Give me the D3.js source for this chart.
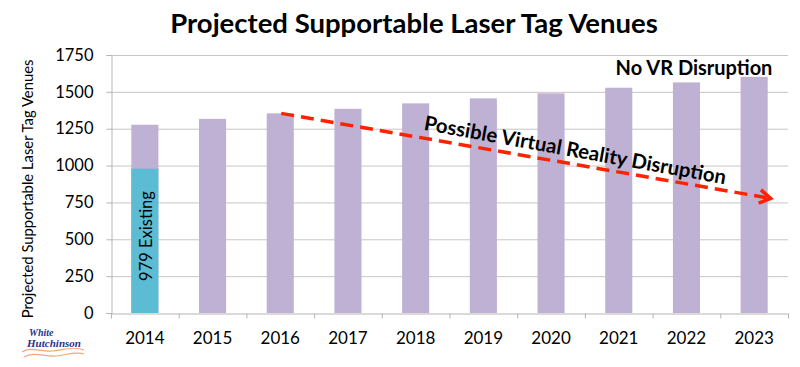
<!DOCTYPE html>
<html>
<head>
<meta charset="utf-8">
<script src="https://cdn.jsdelivr.net/npm/d3@7"></script>
<style>
  body { margin: 0; background: #fff; }
  text { font-family: Lato, "Open Sans", sans-serif; }
</style>
</head>
<body>
<svg id="chart" width="800" height="367"></svg>
<script>
// chart data
const years = ['2014', '2015', '2016', '2017', '2018', '2019', '2020', '2021', '2022', '2023']
const supportable = [1277, 1317, 1354, 1385, 1422, 1456, 1490, 1528, 1564, 1602]
const existing = [979, 0, 0, 0, 0, 0, 0, 0, 0, 0]
const yTicks = [0, 250, 500, 750, 1000, 1250, 1500, 1750]
// arrow of the VR scenario: from the 2016 bar down to ~775 past 2023
const vrStart = { year: '2016', value: 1354 }
const vrEnd = { year: '2023', value: 777 }

const svg = d3.select('#chart')
const plotLeft = 111, plotRight = 788, plotTop = 55, plotBottom = 313

const x = d3.scaleBand().domain(years).range([plotLeft, plotRight]).paddingInner(0).paddingOuter(0)
const y = d3.scaleLinear().domain([0, 1750]).range([plotBottom, plotTop])
const barW = x.bandwidth() * 0.4

// title
svg.append('text')
  .attr('x', 414).attr('y', 33)
  .attr('text-anchor', 'middle')
  .style('font-size', '27.5px').style('font-weight', 'bold')
  .text('Projected Supportable Laser Tag Venues')

// gridlines
svg.append('g').selectAll('line').data(yTicks.slice(1)).join('line')
  .attr('x1', plotLeft).attr('x2', plotRight)
  .attr('y1', d => y(d) + 0.5).attr('y2', d => y(d) + 0.5)
  .style('stroke', '#c6c6c6').style('stroke-width', 1)

// y axis
const yAxis = svg.append('g')
  .attr('transform', `translate(${plotLeft + 0.5},0)`)
  .call(d3.axisLeft(y).tickValues(yTicks).tickFormat(d3.format('d')).tickSize(5).tickPadding(13))
yAxis.select('.domain').style('stroke', '#b5b5b5')
yAxis.selectAll('.tick line').style('stroke', '#b5b5b5')
yAxis.selectAll('.tick text')
  .style('font-size', '16.5px').style('fill', '#000')
  .style('font-family', 'Lato, sans-serif')

// x axis
const xAxis = svg.append('g')
  .attr('transform', `translate(0,${plotBottom + 0.5})`)
  .call(d3.axisBottom(x).tickSize(0).tickPadding(18))
xAxis.select('.domain').style('stroke', '#b5b5b5')
xAxis.selectAll('.tick text')
  .style('font-size', '17px').style('fill', '#000')
  .style('font-family', 'Lato, sans-serif')
// ticks on the band edges
xAxis.append('g').selectAll('line').data(years.concat(['end'])).join('line')
  .attr('x1', (d, i) => plotLeft + i * x.step() + 0.5)
  .attr('x2', (d, i) => plotLeft + i * x.step() + 0.5)
  .attr('y1', 0).attr('y2', 5)
  .style('stroke', '#b5b5b5')

// y axis title
svg.append('text')
  .attr('transform', 'translate(33,189) rotate(-90)')
  .attr('text-anchor', 'middle')
  .style('font-size', '14.8px')
  .text('Projected Supportable Laser Tag Venues')

// bars
svg.append('g').selectAll('rect').data(years).join('rect')
  .attr('x', d => x(d) + (x.bandwidth() - barW) / 2)
  .attr('width', barW)
  .attr('y', (d, i) => y(supportable[i]))
  .attr('height', (d, i) => y(0) - y(supportable[i]))
  .style('fill', '#bfb1d3')

svg.append('g').selectAll('rect').data(years.filter((d, i) => existing[i] > 0)).join('rect')
  .attr('x', d => x(d) + (x.bandwidth() - barW) / 2)
  .attr('width', barW)
  .attr('y', (d, i) => y(existing[i]))
  .attr('height', (d, i) => y(0) - y(existing[i]))
  .style('fill', '#5bbcd3')

// label inside the existing bar
svg.append('text')
  .attr('transform', `translate(${x('2014') + x.bandwidth() / 2 + 7},236) rotate(-90)`)
  .attr('text-anchor', 'middle')
  .style('font-size', '16.5px')
  .text(existing[0] + ' Existing')

// no VR label
svg.append('text')
  .attr('x', 694).attr('y', 75)
  .attr('text-anchor', 'middle')
  .style('font-size', '20px').style('font-weight', 'bold')
  .text('No VR Disruption')

// dashed red arrow
const x0 = x(vrStart.year) + x.bandwidth() / 2 + 1
const y0 = y(vrStart.value)
const x1 = x(vrEnd.year) + x.bandwidth() / 2 + barW / 2 + 3
const y1 = y(vrEnd.value)
const ang = Math.atan2(y1 - y0, x1 - x0)
svg.append('line')
  .attr('x1', x0).attr('y1', y0)
  .attr('x2', x1 - 4 * Math.cos(ang)).attr('y2', y1 - 4 * Math.sin(ang))
  .style('stroke', '#ff2200').style('stroke-width', 3.5)
  .style('stroke-dasharray', '13,7')
const head = 13
svg.append('path')
  .attr('d', `M${x1 - head * Math.cos(ang - 0.55)},${y1 - head * Math.sin(ang - 0.55)}L${x1},${y1}L${x1 - head * Math.cos(ang + 0.55)},${y1 - head * Math.sin(ang + 0.55)}`)
  .style('fill', 'none').style('stroke', '#ff2200').style('stroke-width', 3.5)

// VR label along the arrow
svg.append('text')
  .attr('transform', `translate(574,157) rotate(${ang * 180 / Math.PI + 0.4})`)
  .attr('text-anchor', 'middle')
  .style('font-size', '20.3px').style('font-weight', 'bold')
  .text('Possible Virtual Reality Disruption')

// logo, bottom left
const logo = svg.append('g')
logo.append('text').attr('x', 29).attr('y', 336)
  .style('font-size', '10px').style('font-style', 'italic').style('font-weight', 'bold')
  .style('fill', '#26358a').style('font-family', '"Liberation Serif", serif')
  .text('White')
logo.append('text').attr('x', 27).attr('y', 347)
  .style('font-size', '10px').style('font-style', 'italic').style('font-weight', 'bold')
  .style('fill', '#26358a').style('font-family', '"Liberation Serif", serif')
  .attr('textLength', 54).attr('lengthAdjust', 'spacingAndGlyphs')
  .text('Hutchinson')
logo.append('path')
  .attr('d', 'M22,352 C30,346 40,352 52,351 C64,350 74,346 84,350 M24,357 C34,351 44,357 56,356 C66,355 76,351 84,354')
  .style('fill', 'none').style('stroke', '#f4a77a').style('stroke-width', 1.2)
</script>
</body>
</html>
